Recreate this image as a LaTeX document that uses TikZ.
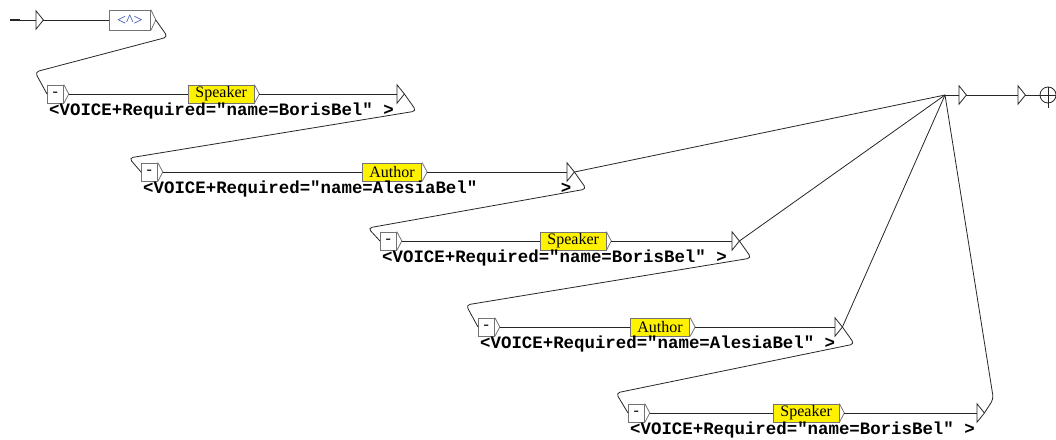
\documentclass[tikz,border=0pt]{standalone}
\usepackage{fontspec}
\setmainfont{Liberation Serif}
\setmonofont{Liberation Mono}
\usetikzlibrary{calc}

\definecolor{tagblue}{RGB}{40,70,160}

\begin{document}
\begin{tikzpicture}[
		x=1pt, y=-1pt,
		% Box styles
		graphbox/.style={draw=black!55, line width=0.8pt, minimum height=18pt, inner ysep=0pt, anchor=west, font=\fontsize{16}{18}\selectfont},
		dashbox/.style={graphbox, fill=white, minimum width=16pt, inner xsep=2pt},
		varbox/.style={graphbox, fill=yellow, inner xsep=7pt},
		boxedge/.style={draw=black!55, line width=0.8pt},
		% Output text style
		outtext/.style={anchor=base west, inner sep=0pt, font=\fontsize{17.4}{20}\selectfont\ttfamily\bfseries},
		% State and transition styles
		endmark/.style={minimum width=7pt, minimum height=18pt, inner sep=0pt, anchor=west},
		link/.style={draw=black!85, line width=0.8pt},
		backlink/.style={link, rounded corners=4pt}
		]
		
		\useasboundingbox (0,0) rectangle (1056,439);
		
		% --- START ---
		\coordinate (start) at (10,20);
		\node[endmark] (init) at (36,20) {};
		\node[graphbox, minimum width=41pt, minimum height=20pt, text=tagblue] (top) at (109,20) {<\textasciicircum>};
		
		% --- ROWS ---
		\node[dashbox] (d1) at (47,94) {-};
		\node[varbox] (v1) at (188,94) {Speaker};
		\node[endmark] (e1) at (397,94) {};
		\node[outtext] (o1) at (49,115) {<VOICE+Required="name=BorisBel" >};
		
		\node[dashbox] (d2) at (141,172) {-};
		\node[varbox] (v2) at (362,172) {Author};
		\node[endmark] (e2) at (567,172) {};
		\node[outtext] (o2) at (143,193) {<VOICE+Required="name=AlesiaBel"~~~~~~~~>};
		
		\node[dashbox] (d3) at (380,241) {-};
		\node[varbox] (v3) at (540,241) {Speaker};
		\node[endmark] (e3) at (732,241) {};
		\node[outtext] (o3) at (382,262) {<VOICE+Required="name=BorisBel" >};
		
		\node[dashbox] (d4) at (478,327) {-};
		\node[varbox] (v4) at (630,327) {Author};
		\node[endmark] (e4) at (835,327) {};
		\node[outtext] (o4) at (480,348) {<VOICE+Required="name=AlesiaBel" >};
		
		\node[dashbox] (d5) at (628,413) {-};
		\node[varbox] (v5) at (773,413) {Speaker};
		\node[endmark] (e5) at (977,413) {};
		\node[outtext] (o5) at (630,434) {<VOICE+Required="name=BorisBel" >};
		
		% --- END ---
		\coordinate (join) at (945,95);
		\node[endmark] (n1) at (959,95) {};
		\node[endmark] (n2) at (1018,95) {};
		\node[circle, draw=black!85, line width=0.8pt, minimum size=16pt, inner sep=0pt] (fin) at (1048,95) {};
		
		% box arrows and state marks
		\foreach \b in {top,d1,v1,d2,v2,d3,v3,d4,v4,d5,v5} {
			\coordinate (\b-out) at ($(\b.east)+(5,0)$);
			\draw[boxedge] (\b.north east) -- (\b-out) -- (\b.south east);
		}
		\foreach \m in {init,e1,e2,e3,e4,e5,n1,n2}
		\draw[link] (\m.north west) -- (\m.east) -- (\m.south west) -- cycle;
		\draw[link] (fin.west) -- (fin.east);
		\draw[link] (fin.north) -- ($(fin.south)+(0,5)$);
		
		% transitions
		\draw[link] (start) -- (init.west);
		\draw[link, line width=2pt] (start) -- ++(10,0);
		\draw[link] (init.east) -- (top.west);
		\foreach \i in {1,...,5} {
			\draw[link] (d\i-out) -- (v\i.west);
			\draw[link] (v\i-out) -- (e\i.west);
		}
		\foreach \a/\b/\h in {top-out/d1/22, e1.east/d2/14, e2.east/d3/13, e3.east/d4/22, e4.east/d5/20}
		\draw[backlink] (\a) -- ++(12,17) -- ($(\b.west)+(-12,-\h)$) -- (\b.west);
		\foreach \e in {e2,e3,e4}
		\draw[link] (\e.east) -- (join);
		\draw[backlink] (e5.east) -- ++(9,-14) -- (join);
		\draw[link] (join) -- (n1.west);
		\draw[link] (n1.east) -- (n2.west);
		\draw[link] (n2.east) -- (fin.west);
		
	\end{tikzpicture}
\end{document}
